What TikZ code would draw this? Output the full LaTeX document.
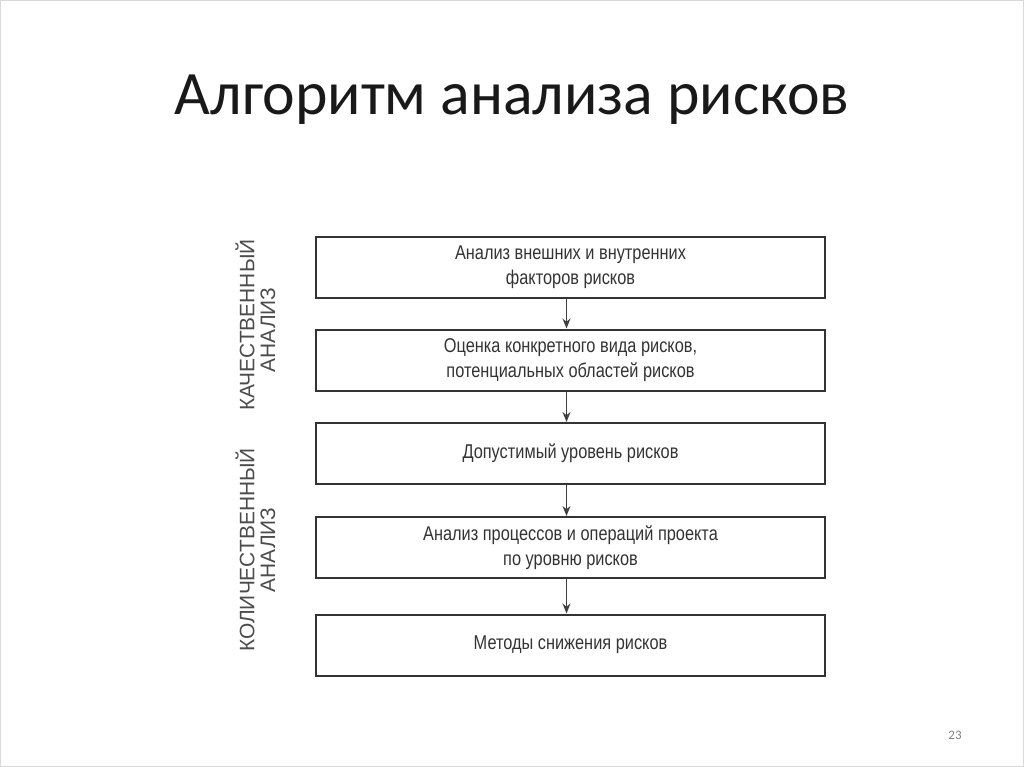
\documentclass[tikz,border=0pt]{standalone}
\usepackage{fontspec}
\usetikzlibrary{arrows.meta}
\setmainfont{Carlito}
\newfontfamily\boxfont[FakeStretch=0.82]{Liberation Sans}
\newfontfamily\sidefont{Liberation Sans}
\begin{document}
\begin{tikzpicture}[x=1bp,y=-1bp,
  stepbox/.style={draw=black!80,line width=2bp,minimum width=509bp,minimum height=61bp,inner sep=0pt,font=\boxfont\fontsize{20}{25}\selectfont,text=black!80,align=center},
  arr/.style={draw=black!75,line width=1.5bp,-{Stealth[length=10bp,width=8bp]}},
  side/.style={rotate=90,font=\sidefont\fontsize{21}{24}\selectfont,text=black!70}]
\useasboundingbox (0,0) rectangle (1024,767);
\draw[black!15] (0.5,0.5) rectangle (1023.5,766.5);
\node[font=\fontsize{62}{66}\selectfont,text=black!90] (title) at (512,100) {Алгоритм анализа рисков};
\node[stepbox] (b1) at (570.5,267.5) {Анализ внешних и внутренних\\факторов рисков};
\node[stepbox] (b2) at (570.5,360) {Оценка конкретного вида рисков,\\потенциальных областей рисков};
\node[stepbox] (b3) at (570.5,453.5) {Допустимый уровень рисков};
\node[stepbox] (b4) at (570.5,547.5) {Анализ процессов и операций проекта\\по уровню рисков};
\node[stepbox] (b5) at (570.5,645) {Методы снижения рисков};
\foreach \a/\b in {b1/b2,b2/b3,b3/b4,b4/b5}
  \draw[arr] ([xshift=-4bp]\a.south) -- ([xshift=-4bp]\b.north);
\node[side] (q1) at (245,325) {КАЧЕСТВЕННЫЙ};
\node[side] (q2) at (268,330) {АНАЛИЗ};
\node[side] (k1) at (245,550) {КОЛИЧЕСТВЕННЫЙ};
\node[side] (k2) at (268,550) {АНАЛИЗ};
\node[font=\fontsize{13}{14}\selectfont,text=black!50] (pg) at (955,735) {23};
\end{tikzpicture}
\end{document}
